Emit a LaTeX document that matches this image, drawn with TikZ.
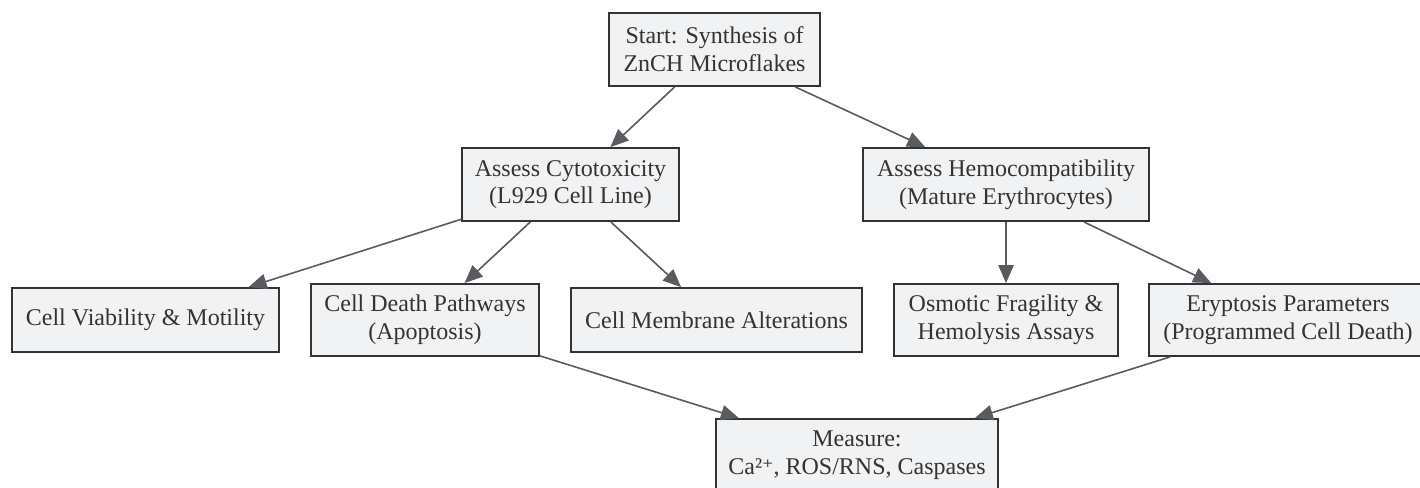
\documentclass[tikz,border=0pt]{standalone}
\usepackage{fontspec}
\setmainfont{Liberation Serif}
\newfontfamily\supfont[Scale=0.9]{DejaVu Serif}
\usetikzlibrary{arrows.meta}
\definecolor{boxfill}{HTML}{F1F2F4}
\definecolor{boxline}{HTML}{333333}
\definecolor{arrline}{HTML}{585B60}
\definecolor{txt}{HTML}{333333}
\tikzset{
  box/.style={draw=boxline, fill=boxfill, line width=1.4pt, rectangle, align=center,
    inner sep=0pt, text=txt, font=\fontsize{18}{20.8}\selectfont},
  arr/.style={draw=arrline, line width=1.2pt, -{Triangle[length=13.5pt,width=11.5pt]}, arrline}
}
\begin{document}
\begin{tikzpicture}[x=0.75pt,y=-0.75pt]
\useasboundingbox (0,0) rectangle (1420,487);
\clip (0,0) rectangle (1420,487);
\node[box, minimum width=158.25pt, minimum height=54.75pt] (start) at (714.5,49.5) {Start: Synthesis of\\ZnCH Microflakes};
\node[box, minimum width=162.75pt, minimum height=54.75pt] (cyto) at (570.5,184.5) {Assess Cytotoxicity\\(L929 Cell Line)};
\node[box, minimum width=214.5pt, minimum height=54.75pt] (hemo) at (1006,184.5) {Assess Hemocompatibility\\(Mature Erythrocytes)};
\node[box, minimum width=200.25pt, minimum height=48pt] (via) at (145.5,320) {Cell Viability \& Motility};
\node[box, minimum width=171pt, minimum height=54pt] (death) at (425,320) {Cell Death Pathways\\(Apoptosis)};
\node[box, minimum width=218.25pt, minimum height=48pt] (memb) at (716.5,320) {Cell Membrane Alterations};
\node[box, minimum width=168pt, minimum height=54pt] (osm) at (1006,320) {Osmotic Fragility \&\\Hemolysis Assays};
\node[box, minimum width=208.5pt, minimum height=54pt] (ery) at (1288,320) {Eryptosis Parameters\\(Programmed Cell Death)};
\node[box, minimum width=211.5pt, minimum height=54pt] (meas) at (857,455) {Measure:\\Ca²{\supfont ⁺}, ROS/RNS, Caspases};
\draw[arr] (start) -- (cyto);
\draw[arr] (start) -- (hemo);
\draw[arr] (cyto) -- (via);
\draw[arr] (cyto) -- (death);
\draw[arr] (cyto) -- (memb);
\draw[arr] (hemo) -- (osm);
\draw[arr] (hemo) -- (ery);
\draw[arr] (death) -- (meas);
\draw[arr] (ery) -- (meas);
\end{tikzpicture}
\end{document}
